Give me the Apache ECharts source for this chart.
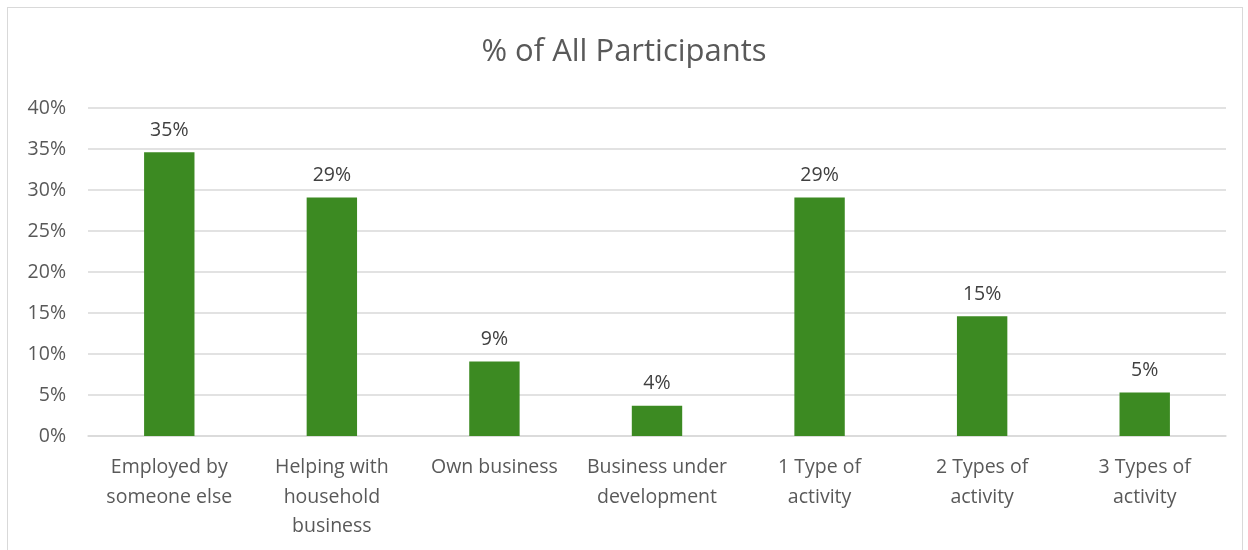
<!DOCTYPE html>
<html>
<head>
<meta charset="utf-8">
<script src="https://cdn.jsdelivr.net/npm/echarts@6/dist/echarts.min.js"></script>
<style>
html,body{margin:0;padding:0;background:#fff;}
#frame{position:absolute;left:7px;top:7px;width:1236px;height:560px;border:1px solid #d9d9d9;box-sizing:border-box;}
#chart{position:absolute;left:0;top:0;width:1248px;height:550px;}
</style>
</head>
<body>
<div id="frame"></div>
<div id="chart"></div>
<script>
const categories = ["Employed by\nsomeone else","Helping with\nhousehold\nbusiness","Own business","Business under\ndevelopment","1 Type of\nactivity","2 Types of\nactivity","3 Types of\nactivity"];
const values = [34.6, 29.1, 9.1, 3.7, 29.1, 14.6, 5.3];
const yTicks = [0,5,10,15,20,25,30,35,40];

const chart = echarts.init(document.getElementById('chart'), null, {renderer:'canvas'});
const font = '"Open Sans", "Liberation Sans", sans-serif';
chart.setOption({
  animation:false,
  title:{text:'% of All Participants', left:'center', top:32,
    textStyle:{fontFamily:font, fontSize:31, fontWeight:'normal', color:'#595959'}},
  grid:{left:88, right:22, top:108, bottom:114},
  xAxis:{type:'category', data:categories,
    axisLine:{lineStyle:{color:'#d9d9d9', width:1.5}},
    axisTick:{show:false},
    axisLabel:{fontFamily:font, fontSize:19.5, color:'#595959', lineHeight:29.5, margin:17, interval:0}},
  yAxis:{type:'value', min:yTicks[0], max:yTicks[yTicks.length-1], interval:5,
    axisLine:{show:false}, axisTick:{show:false},
    splitLine:{lineStyle:{color:'#d9d9d9', width:1.5}},
    axisLabel:{fontFamily:font, fontSize:19.5, color:'#595959', margin:22, formatter:v=>v+'%'}},
  series:[{type:'bar', data:values, barWidth:'31%',
    itemStyle:{color:'#3c8a22'},
    label:{show:true, position:'top', distance:12, fontFamily:font, fontSize:19.5, color:'#404040',
      formatter:p=>Math.round(p.value)+'%'}}]
});
</script>
</body>
</html>
